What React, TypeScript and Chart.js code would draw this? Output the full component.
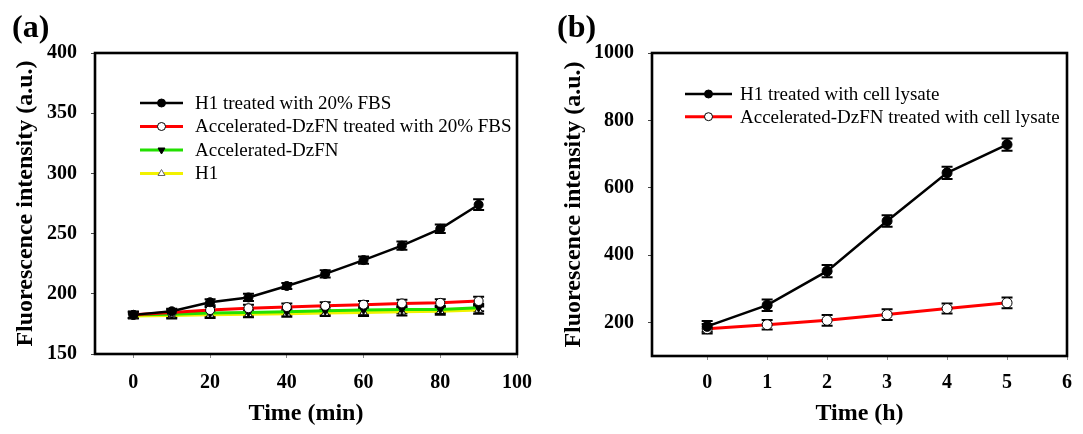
import React, { useEffect, useRef } from 'react';
import { Chart, registerables } from 'chart.js';

Chart.register(...registerables);

// ---------- Panel (a) data ----------
const timeMin = [0, 10, 20, 30, 40, 50, 60, 70, 80, 90];
const h1Fbs = [182.5, 185.5, 193, 197, 206.5, 216.5, 228, 240, 254, 274];
const h1FbsErr = [2.5, 2, 2.5, 3, 2.5, 3, 3, 3.5, 3.5, 4.5];
const dzfnFbs = [182.5, 184.5, 186.5, 188, 189, 190, 191, 192, 192.5, 194];
const dzfnFbsErr = [2.5, 2.5, 2.5, 3, 3, 3, 3, 3, 3, 3.5];
const dzfn = [182.5, 183, 184, 184.5, 185, 186, 186.5, 187, 187, 188.5];
const dzfnErr = [2.5, 2.5, 2.5, 2.5, 2.5, 3, 3, 3, 3, 3];
const h1 = [181.5, 182, 182.5, 183, 183.5, 184, 184.5, 185, 185.5, 186.5];
const h1Err = [2, 2.5, 2.5, 2.5, 2.5, 2.5, 3, 3, 3, 3];
const xTicksA = [0, 20, 40, 60, 80, 100];
const yTicksA = [150, 200, 250, 300, 350, 400];

// ---------- Panel (b) data ----------
const timeH = [0, 1, 2, 3, 4, 5];
const h1Lysate = [188, 251, 352, 501, 644, 728];
const h1LysateErr = [16, 17, 18, 17, 18, 18];
const dzfnLysate = [181, 193, 206, 223, 241, 258];
const dzfnLysateErr = [14, 14, 16, 16, 15, 16];
const xTicksB = [0, 1, 2, 3, 4, 5, 6];
const yTicksB = [200, 400, 600, 800, 1000];

const FONT = "'Liberation Serif', 'Times New Roman', Times, serif";

function toXY(xs: number[], ys: number[]) {
  return xs.map((x, i) => ({ x, y: ys[i] }));
}

function drawMarker(ctx: CanvasRenderingContext2D, style: string, rotation: number, fill: string, stroke: string, x: number, y: number, r: number) {
  ctx.save();
  ctx.beginPath();
  if (style === 'triangle') {
    const dir = rotation === 180 ? -1 : 1;
    ctx.moveTo(x, y - dir * r);
    ctx.lineTo(x - r * 0.866, y + dir * r * 0.5);
    ctx.lineTo(x + r * 0.866, y + dir * r * 0.5);
    ctx.closePath();
  } else {
    ctx.arc(x, y, r, 0, Math.PI * 2);
  }
  ctx.fillStyle = fill;
  ctx.fill();
  ctx.lineWidth = 1;
  ctx.strokeStyle = stroke;
  ctx.stroke();
  ctx.restore();
}

const decorPlugin = {
  id: 'decor',
  beforeDatasetsDraw(chart: any, _args: any, opts: any) {
    const { ctx } = chart;
    const yScale = chart.scales.y;
    const cap = opts.cap ?? 5;
    ctx.save();
    ctx.strokeStyle = '#000';
    ctx.lineWidth = opts.errWidth ?? 2;
    chart.data.datasets.forEach((ds: any, i: number) => {
      const errs: number[] = ds.errors;
      if (!errs) return;
      const meta = chart.getDatasetMeta(i);
      meta.data.forEach((pt: any, j: number) => {
        const v = ds.data[j].y;
        const e = errs[j];
        const x = pt.x;
        const yt = yScale.getPixelForValue(v + e);
        const yb = yScale.getPixelForValue(v - e);
        ctx.beginPath();
        ctx.moveTo(x, yt);
        ctx.lineTo(x, yb);
        ctx.moveTo(x - cap, yt);
        ctx.lineTo(x + cap, yt);
        ctx.moveTo(x - cap, yb);
        ctx.lineTo(x + cap, yb);
        ctx.stroke();
      });
    });
    ctx.restore();
  },
  afterDatasetsDraw(chart: any, _args: any, opts: any) {
    const { ctx, chartArea } = chart;
    ctx.save();
    // frame
    ctx.strokeStyle = '#000';
    ctx.lineWidth = 2.6;
    ctx.strokeRect(chartArea.left, chartArea.top, chartArea.right - chartArea.left, chartArea.bottom - chartArea.top);
    // legend
    const lg = opts.legend;
    chart.data.datasets.forEach((ds: any, i: number) => {
      const y = chartArea.top + lg.y + i * lg.rowGap;
      const x0 = chartArea.left + lg.x;
      ctx.beginPath();
      ctx.strokeStyle = ds.borderColor;
      ctx.lineWidth = ds.borderWidth;
      ctx.moveTo(x0, y);
      ctx.lineTo(x0 + lg.lineLen, y);
      ctx.stroke();
      drawMarker(ctx, ds.pointStyle, ds.pointRotation || 0, ds.pointBackgroundColor, ds.legendMarkerBorder || '#000', x0 + lg.lineLen / 2, y, lg.r);
      ctx.fillStyle = '#000';
      ctx.font = `${lg.size}px ${FONT}`;
      ctx.textAlign = 'left';
      ctx.textBaseline = 'middle';
      ctx.fillText(ds.label, x0 + lg.lineLen + lg.textGap, y + 1);
    });
    // panel label
    ctx.fillStyle = '#000';
    ctx.font = `bold 32px ${FONT}`;
    ctx.textAlign = 'left';
    ctx.textBaseline = 'alphabetic';
    ctx.fillText(opts.panelLabel, 12, 37);
    ctx.restore();
  },
};

function makeDataset(label: string, xs: number[], ys: number[], errs: number[], color: string, width: number, style: string, rotation: number, fill: string, radius: number, legendMarkerBorder = '#000') {
  return {
    label,
    data: toXY(xs, ys),
    errors: errs,
    borderColor: color,
    backgroundColor: color,
    borderWidth: width,
    pointStyle: style,
    pointRotation: rotation,
    pointRadius: radius,
    pointBackgroundColor: fill,
    pointBorderColor: '#000',
    pointBorderWidth: 1,
    legendMarkerBorder,
    tension: 0,
    fill: false,
  };
}

function makeOptions(p: any) {
  const tickFont = { family: FONT, size: 20, weight: 'bold' as const };
  const titleFont = { family: FONT, size: 24, weight: 'bold' as const };
  return {
    responsive: true,
    maintainAspectRatio: false,
    animation: false as const,
    layout: { padding: { top: p.padTop, right: p.padRight, left: 0, bottom: 0 } },
    plugins: {
      legend: { display: false },
      tooltip: { enabled: false },
      decor: p.decor,
    },
    scales: {
      x: {
        type: 'linear' as const,
        min: p.xMin,
        max: p.xMax,
        afterBuildTicks: (axis: any) => {
          axis.ticks = p.xTicks.map((v: number) => ({ value: v }));
        },
        afterFit: (scale: any) => {
          scale.height = p.xHeight;
        },
        ticks: { font: tickFont, color: '#000', padding: p.xTickPad, maxRotation: 0, autoSkip: false, callback: (v: any) => String(v) },
        grid: { drawOnChartArea: false, drawTicks: true, tickLength: 4, color: '#888', lineWidth: 1 },
        border: { display: false },
        title: { display: true, text: p.xTitle, font: titleFont, color: '#000', padding: { top: 0, bottom: p.xTitlePad } },
      },
      y: {
        type: 'linear' as const,
        min: p.yMin,
        max: p.yMax,
        afterBuildTicks: (axis: any) => {
          axis.ticks = p.yTicks.map((v: number) => ({ value: v }));
        },
        afterFit: (scale: any) => {
          scale.width = p.yWidth;
        },
        ticks: { font: tickFont, color: '#000', padding: p.yTickPad, autoSkip: false, callback: (v: any) => String(v) },
        grid: { drawOnChartArea: false, drawTicks: true, tickLength: 4, color: '#444', lineWidth: 1 },
        border: { display: false },
        title: { display: true, text: 'Fluorescence intensity (a.u.)', font: titleFont, color: '#000', padding: { top: p.yTitlePad, bottom: 0 } },
      },
    },
  };
}

export default function App() {
  const refA = useRef<HTMLCanvasElement | null>(null);
  const refB = useRef<HTMLCanvasElement | null>(null);

  useEffect(() => {
    if (!refA.current || !refB.current) return;

    const chartA = new Chart(refA.current, {
      type: 'line',
      data: {
        datasets: [
          makeDataset('H1 treated with 20% FBS', timeMin, h1Fbs, h1FbsErr, '#000000', 2.5, 'circle', 0, '#000000', 4.5),
          makeDataset('Accelerated-DzFN treated with 20% FBS', timeMin, dzfnFbs, dzfnFbsErr, '#ff0000', 3, 'circle', 0, '#ffffff', 4.5),
          makeDataset('Accelerated-DzFN', timeMin, dzfn, dzfnErr, '#22e000', 3, 'triangle', 180, '#000000', 4.5),
          makeDataset('H1', timeMin, h1, h1Err, '#f2f200', 3, 'triangle', 0, '#ffffff', 4.5, '#666'),
        ] as any,
      },
      options: makeOptions({
        padTop: 53,
        padRight: 21,
        xMin: -10,
        xMax: 100,
        xTicks: xTicksA,
        xHeight: 80,
        xTickPad: 13,
        xTitle: 'Time (min)',
        xTitlePad: 6,
        yMin: 150,
        yMax: 400,
        yTicks: yTicksA,
        yWidth: 95,
        yTickPad: 14,
        yTitlePad: 11,
        decor: {
          cap: 5.5,
          errWidth: 2,
          panelLabel: '(a)',
          legend: { x: 45, y: 50, rowGap: 23.5, lineLen: 43, textGap: 12, r: 4, size: 19 },
        },
      }) as any,
      plugins: [decorPlugin as any],
    });

    const chartB = new Chart(refB.current, {
      type: 'line',
      data: {
        datasets: [
          makeDataset('H1 treated with cell lysate', timeH, h1Lysate, h1LysateErr, '#000000', 2.5, 'circle', 0, '#000000', 5),
          makeDataset('Accelerated-DzFN treated with cell lysate', timeH, dzfnLysate, dzfnLysateErr, '#ff0000', 3, 'circle', 0, '#ffffff', 5),
        ] as any,
      },
      options: makeOptions({
        padTop: 53,
        padRight: 10,
        xMin: -0.92,
        xMax: 6,
        xTicks: xTicksB,
        xHeight: 78,
        xTickPad: 11,
        xTitle: 'Time (h)',
        xTitlePad: 6,
        yMin: 100,
        yMax: 1000,
        yTicks: yTicksB,
        yWidth: 107,
        yTickPad: 14,
        yTitlePad: 14,
        decor: {
          cap: 5.5,
          errWidth: 2,
          panelLabel: '(b)',
          legend: { x: 33, y: 41, rowGap: 22.7, lineLen: 47, textGap: 8, r: 4, size: 19 },
        },
      }) as any,
      plugins: [decorPlugin as any],
    });

    return () => {
      chartA.destroy();
      chartB.destroy();
    };
  }, []);

  return (
    <div style={{ position: 'absolute', left: 0, top: 0, width: 1083, height: 434, background: '#fff' }}>
      <div style={{ position: 'absolute', left: 0, top: 0, width: 545, height: 434 }}>
        <canvas ref={refA} />
      </div>
      <div style={{ position: 'absolute', left: 545, top: 0, width: 538, height: 434 }}>
        <canvas ref={refB} />
      </div>
    </div>
  );
}
